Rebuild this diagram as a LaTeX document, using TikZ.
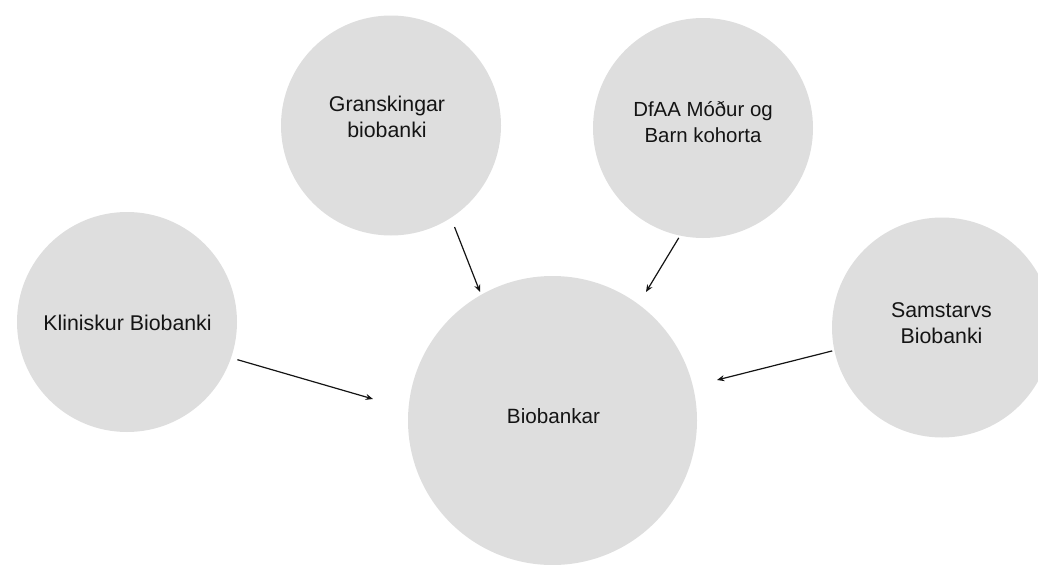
\documentclass[tikz,border=0pt]{standalone}
\usepackage{fontspec}
\setmainfont{Liberation Sans}
\usetikzlibrary{arrows.meta}
\definecolor{bubble}{HTML}{DEDEDE}
\definecolor{ink}{HTML}{141414}
\begin{document}
\begin{tikzpicture}[x=0.75pt,y=-0.75pt,
  bubble/.style={circle,fill=bubble,draw=none,inner sep=0pt,outer sep=0pt,minimum size=#1},
  lbl/.style={inner sep=0pt,align=center,text=ink,font=\fontsize{16pt}{19pt}\selectfont},
  feed/.style={draw=ink,line width=0.9pt,-{Stealth[length=5.5pt,width=4.5pt]}}]
\useasboundingbox (0,0) rectangle (1038,564);
% circles
\node[bubble=165pt] (g) at (391,125.5) {};
\node[bubble=165pt] (d) at (703,128) {};
\node[bubble=165pt] (k) at (127,322) {};
\node[bubble=165pt] (s) at (942,327.5) {};
\node[bubble=216.75pt] (b) at (552.5,420.5) {};
% texts
\node[lbl] (gt) at (387,117) {Granskingar\\biobanki};
\node[lbl,font=\fontsize{15.3pt}{19pt}\selectfont] (dt) at (703,122) {DfAA Móður og\\Barn kohorta};
\node[lbl] (kt) at (127.5,323) {Kliniskur Biobanki};
\node[lbl] (st) at (941.5,323) {Samstarvs\\Biobanki};
\node[lbl,font=\fontsize{15.5pt}{19pt}\selectfont] (bt) at (553.5,416) {Biobankar};
% arrow ends
\coordinate (ge) at (480,292);
\coordinate (de) at (646,292);
\coordinate (ke) at (373,399);
\coordinate (se) at (717,380);
% arrows
\draw[feed,shorten <=7.5pt] (g.-57.4) -- (ge);
\draw[feed,shorten <=2pt] (d.-102.8) -- (de);
\draw[feed,shorten <=5pt] (k.-19.5) -- (ke);
\draw[feed,shorten <=1.7pt] (s.-168.4) -- (se);
\end{tikzpicture}
\end{document}
